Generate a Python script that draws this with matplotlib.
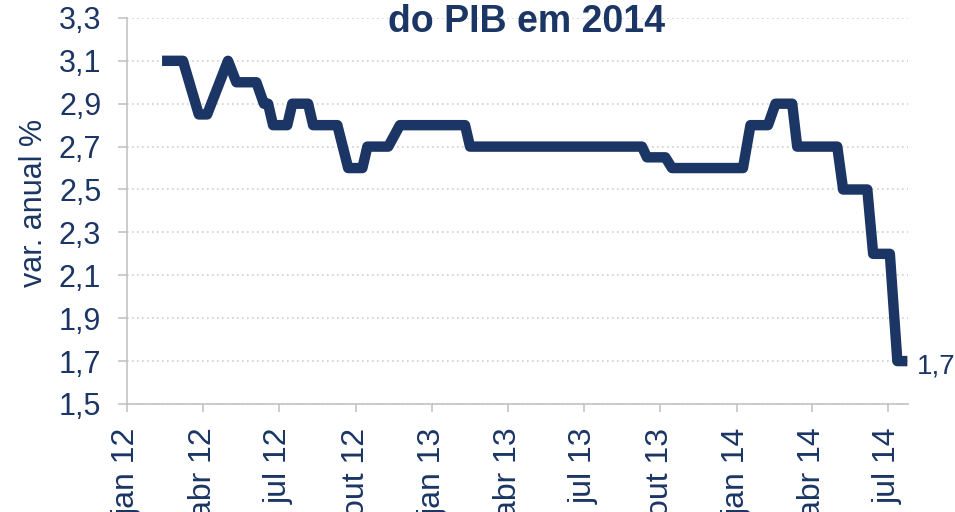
import pandas as pd
import matplotlib.pyplot as plt
plt.switch_backend('agg')
plt.rcParams['font.family'] = ['Liberation Sans', 'DejaVu Sans']

# expectativa de crescimento do PIB de 2014 (vertices da serie)
datas = [
    '2012-02-12', '2012-03-08', '2012-03-27', '2012-04-06', '2012-05-01',
    '2012-05-11', '2012-06-04', '2012-06-13', '2012-06-18', '2012-06-24',
    '2012-07-11', '2012-07-17', '2012-08-05', '2012-08-11', '2012-09-09',
    '2012-09-22', '2012-10-09', '2012-10-15', '2012-11-09', '2012-11-23',
    '2013-02-09', '2013-02-15', '2013-09-09', '2013-09-15', '2013-10-07',
    '2013-10-15', '2014-01-08', '2014-01-17', '2014-02-07', '2014-02-16',
    '2014-03-08', '2014-03-14', '2014-05-01', '2014-05-08', '2014-06-06',
    '2014-06-13', '2014-07-03', '2014-07-12', '2014-07-24',
]
valores = [
    3.1, 3.1, 2.85, 2.85, 3.1,
    3.0, 3.0, 2.9, 2.9, 2.8,
    2.8, 2.9, 2.9, 2.8, 2.8,
    2.6, 2.6, 2.7, 2.7, 2.8,
    2.8, 2.7, 2.7, 2.65, 2.65,
    2.6, 2.6, 2.8, 2.8, 2.9,
    2.9, 2.7, 2.7, 2.5, 2.5,
    2.2, 2.2, 1.7, 1.7,
]
meses = ['2012-01-01', '2012-04-01', '2012-07-01', '2012-10-01', '2013-01-01',
         '2013-04-01', '2013-07-01', '2013-10-01', '2014-01-01', '2014-04-01',
         '2014-07-01']
rotulos = ['jan 12', 'abr 12', 'jul 12', 'out 12', 'jan 13', 'abr 13',
           'jul 13', 'out 13', 'jan 14', 'abr 14', 'jul 14']
yticks = [1.5, 1.7, 1.9, 2.1, 2.3, 2.5, 2.7, 2.9, 3.1, 3.3]

azul = '#1b3564'
cinza = '#bfbfbf'

fig = plt.figure(figsize=(9.55, 5.12), dpi=100)
ax = fig.add_axes([0.133, 0.211, 0.818, 0.754])

x = pd.to_datetime(datas)
ax.plot(x, valores, color=azul, lw=7.5, solid_joinstyle='round',
        solid_capstyle='butt', clip_on=False, zorder=3)

ax.set_xlim(pd.Timestamp('2012-01-01'), pd.Timestamp('2014-07-25'))
ax.set_ylim(1.5, 3.3)

ax.set_yticks(yticks)
ax.set_yticklabels([f'{v:.1f}'.replace('.', ',') for v in yticks])
ax.set_xticks(pd.to_datetime(meses))
ax.set_xticklabels(rotulos, rotation=90, ha='center')

ax.tick_params(axis='y', length=6.5, width=1.1, color=cinza, pad=12,
               labelsize=22, labelcolor=azul)
ax.tick_params(axis='x', length=6, width=1.1, color=cinza, pad=11,
               labelsize=23, labelcolor=azul)

ax.grid(axis='y', color='#d0d0d0', lw=1.2, linestyle=(0, (1, 2)))
ax.set_axisbelow(True)
for s in ['top', 'right']:
    ax.spines[s].set_visible(False)
for s in ['left', 'bottom']:
    ax.spines[s].set_color(cinza)
    ax.spines[s].set_linewidth(1.1)

ax.set_ylabel('var. anual %', fontsize=22, color=azul)
ax.yaxis.set_label_coords(-0.10, 0.52)

ax.annotate('1,7', xy=(x[-1], valores[-1]), xytext=(7, -9),
            textcoords='offset points', fontsize=20, color=azul,
            ha='left', va='baseline', annotation_clip=False)

fig.text(0.551, 0.9375, 'do PIB em 2014', ha='center', va='baseline',
         fontsize=27, fontweight='bold', color=azul)

plt.savefig('out.png', dpi=100)
plt.close()
